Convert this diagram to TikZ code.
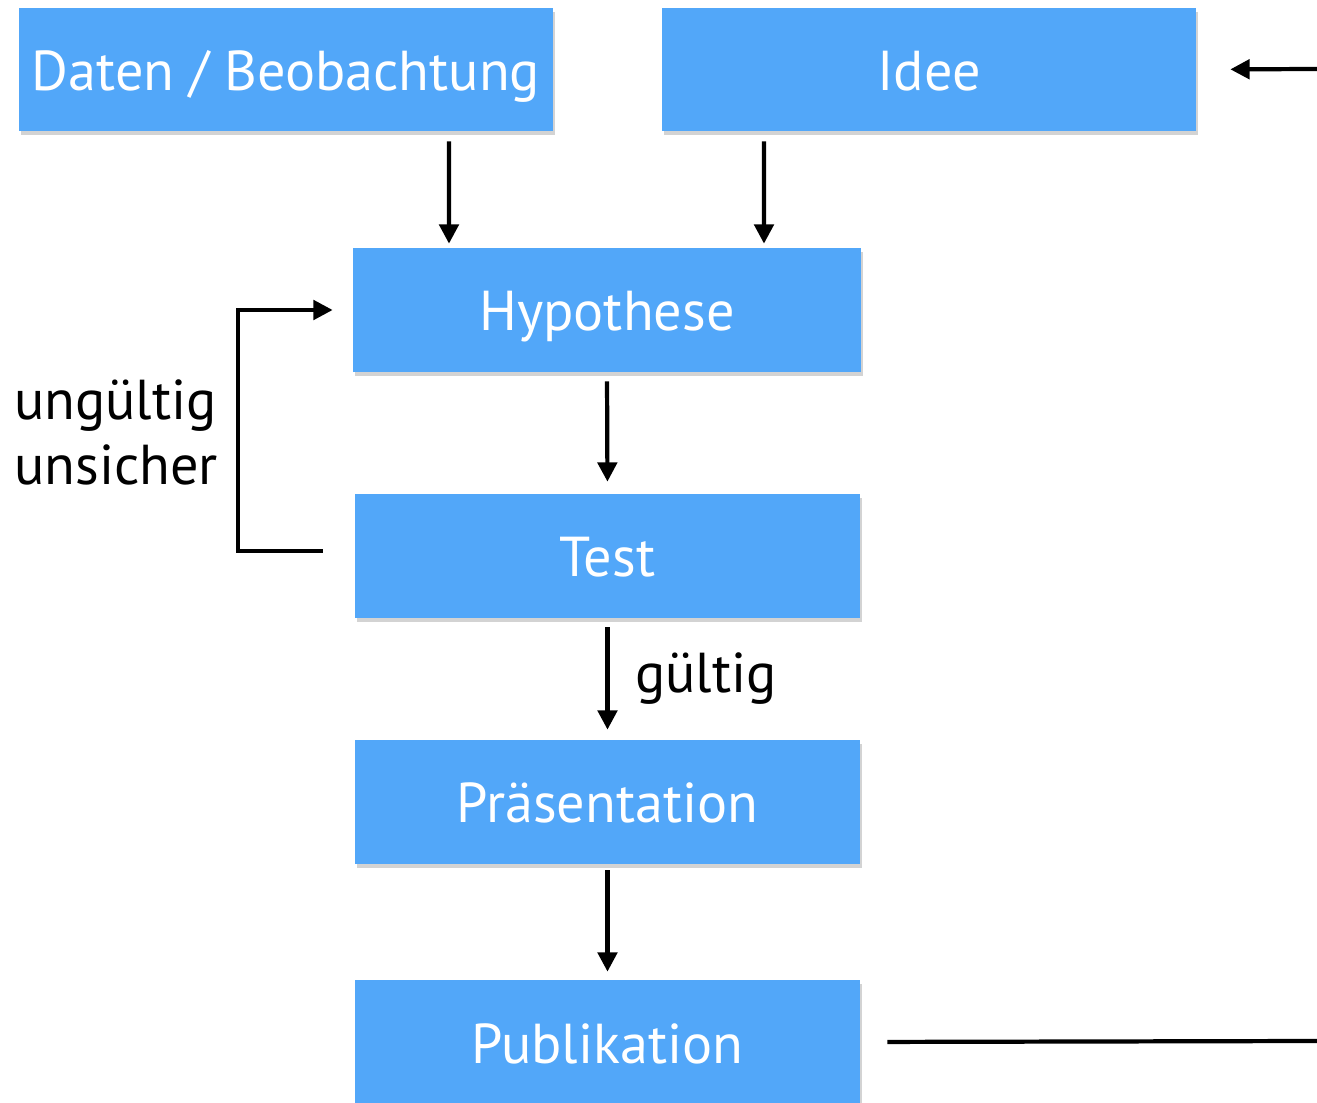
\documentclass[tikz,border=0pt]{standalone}
\usepackage{fontspec}
\setmainfont{PT Sans}
\usepackage{tikz}
\usetikzlibrary{arrows.meta,shapes,positioning,shadows}
\usepackage{xcolor}
\definecolor{stepblue}{RGB}{82,167,249}
\tikzstyle{arrow} = [line width=2.4pt,-{Triangle[length=11pt,width=11pt]},color=black]
\tikzstyle{link} = [line width=2.4pt,color=black]
\tikzstyle{stepbox} = [rectangle, minimum width=10.1cm, minimum height=2.48cm, text centered, text height=1.0cm, text depth=0.16cm, fill=stepblue, text=white, font=\fontsize{32}{38}\selectfont, drop shadow={shadow xshift=1pt, shadow yshift=-2pt, opacity=0.35}]
\tikzstyle{plainlabel} = [font=\fontsize{32}{37}\selectfont, align=left, inner sep=0pt]

\begin{document}
\begin{tikzpicture}
\useasboundingbox (0,0) rectangle (26.34,22.04);

% Top row
\node[stepbox, minimum width=10.68cm, minimum height=2.46cm] (daten) at (5.72,20.65) {Daten / Beobachtung};
\node[stepbox, minimum width=10.68cm, minimum height=2.46cm] (idee) at (18.58,20.65) {Idee};

% Main column
\node[stepbox, minimum width=10.16cm] (hyp) at (12.14,15.84) {Hypothese};
\node[stepbox] (test) at (12.15,10.92) {Test};
\node[stepbox] (praes) at (12.15,6.0) {Präsentation};
\node[stepbox] (publ) at (12.15,1.2) {Publikation};

% Labels
\node[plainlabel, anchor=west] (unsure) at (0.28,13.4) {ungültig\\unsicher};

% Open ends at the border
\coordinate (pubend) at (26.34,1.22);
\coordinate (ideein) at (26.34,20.66);

% Connections
\draw[arrow, shorten <=0.2cm, shorten >=0.08cm] ([xshift=3.26cm]daten.south) -- ([xshift=-3.16cm]hyp.north);
\draw[arrow, shorten <=0.2cm, shorten >=0.08cm] ([xshift=-3.3cm]idee.south) -- ([xshift=3.14cm]hyp.north);
\draw[arrow, shorten <=0.18cm, shorten >=0.24cm] (hyp.south) -- (test.north);
\draw[arrow, shorten <=0.18cm, shorten >=0.2cm] (test.south) -- node[right, xshift=0.4cm, font=\fontsize{32}{38}\selectfont] (valid) {gültig} (praes.north);
\draw[arrow, shorten <=0.12cm, shorten >=0.16cm] (praes.south) -- (publ.north);
\draw[arrow, shorten <=0.64cm, shorten >=0.4cm] ([yshift=0.1cm]test.west) -- ++(-2.34,0) |- (hyp.west);
\draw[link, shorten <=0.54cm] (publ.east) -- (pubend);
\draw[arrow, shorten >=0.68cm] (ideein) -- (idee.east);
\end{tikzpicture}
\end{document}
